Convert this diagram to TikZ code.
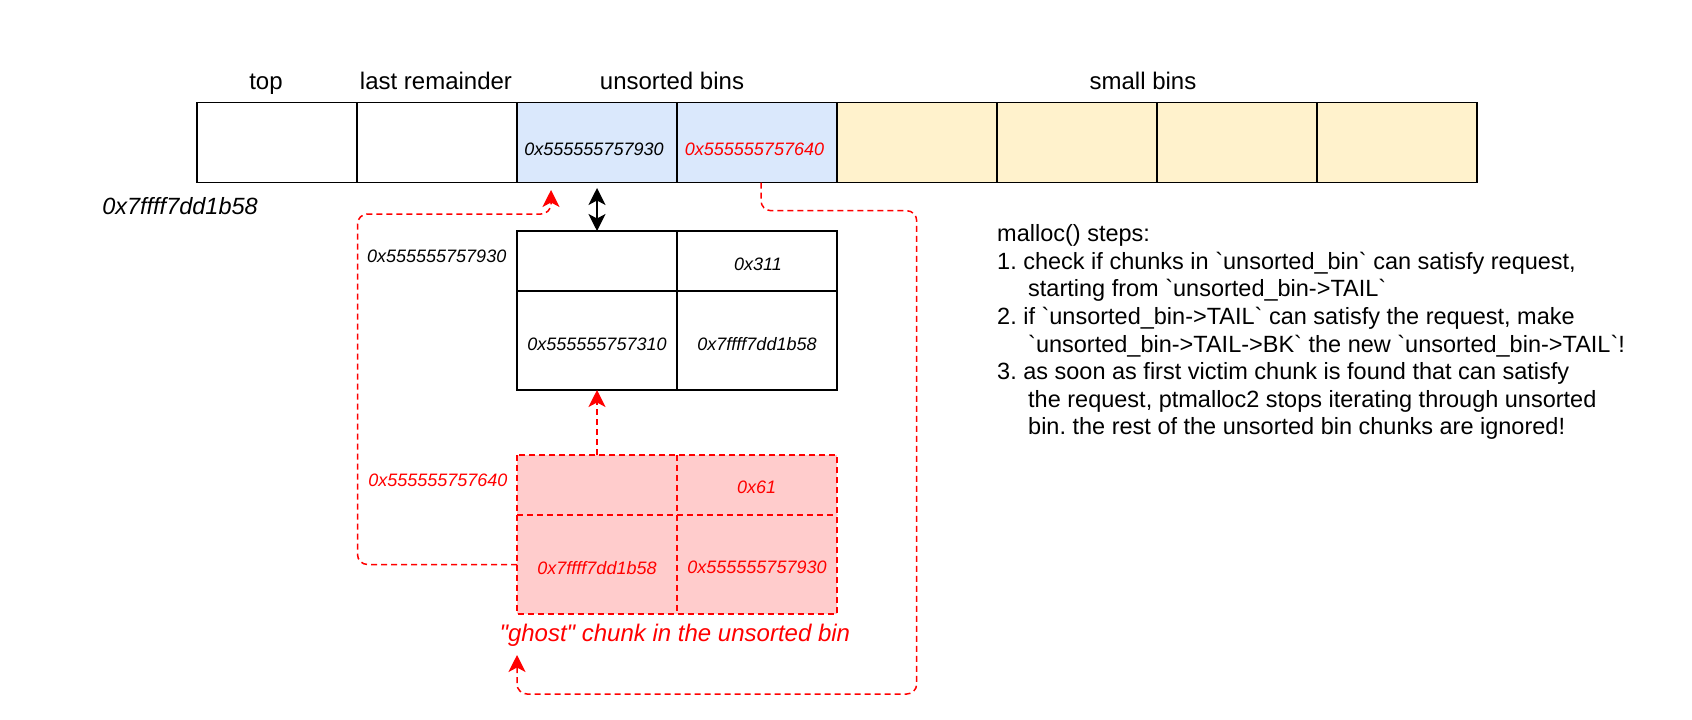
\documentclass[tikz,border=0pt]{standalone}
\usepackage{fontspec}
\setmainfont{Liberation Sans}[Ligatures=TeXOff]
\usetikzlibrary{arrows.meta}
\definecolor{bred}{HTML}{FF0000}
\definecolor{bblue}{HTML}{DAE8FC}
\definecolor{byellow}{HTML}{FFF2CC}
\definecolor{gpink}{HTML}{FFCCCC}
\newcommand\bq{\symbol{96}}
\frenchspacing
\begin{document}
\begin{tikzpicture}[x=1pt,y=-1pt,
  cell/.style={draw=black, line width=1.5pt, minimum width=160pt, inner sep=0pt, outer sep=0pt},
  gcell/.style={fill=gpink, minimum width=160pt, inner sep=0pt, outer sep=0pt},
  gline/.style={draw=bred, line width=1.5pt, dash pattern=on 6pt off 4pt},
  addr/.style={font=\fontsize{18}{21.6}\selectfont\itshape, inner sep=0pt},
  lbl/.style={font=\fontsize{24}{28}\selectfont, inner sep=0pt, anchor=base},
  steps/.style={font=\fontsize{23.5}{27.6}\selectfont, inner sep=0pt, anchor=base west},
  redlink/.style={draw=bred, line width=1.5pt, dash pattern=on 6pt off 4pt, rounded corners=10pt},
  tip/.style={-{Stealth[length=17pt,width=17pt,inset=4.5pt]}},
]
\useasboundingbox (0,0) rectangle (1692,720);

% top row of bins
\node[cell, minimum height=80pt] (c1) at (277,142.7) {};
\node[cell, minimum height=80pt] (c2) at (437,142.7) {};
\node[cell, minimum height=80pt, fill=bblue] (c3) at (597,142.7) {};
\node[cell, minimum height=80pt, fill=bblue] (c4) at (757,142.7) {};
\node[cell, minimum height=80pt, fill=byellow] (c5) at (917,142.7) {};
\node[cell, minimum height=80pt, fill=byellow] (c6) at (1077,142.7) {};
\node[cell, minimum height=80pt, fill=byellow] (c7) at (1237,142.7) {};
\node[cell, minimum height=80pt, fill=byellow] (c8) at (1397,142.7) {};

\node[lbl] (ltop) at (266,89) {top};
\node[lbl] (llast) at (436,89) {last remainder};
\node[lbl] (lunsorted) at (672,89) {unsorted bins};
\node[lbl] (lsmall) at (1143,89) {small bins};

\node[addr] (t3) at (594,149) {0x555555757930};
\node[addr, text=bred] (t4) at (754.5,149) {0x555555757640};
\node[inner sep=0pt, font=\fontsize{23.5}{28}\selectfont\itshape] (main) at (180,205.8) {0x7ffff7dd1b58};

% chunk at 0x555555757930
\node[cell, minimum height=60pt] (n1a) at (597,261) {};
\node[cell, minimum height=60pt] (n1b) at (757,261) {};
\node[cell, minimum height=99pt] (n1c) at (597,340.5) {};
\node[cell, minimum height=99pt] (n1d) at (757,340.5) {};
\node[addr] (n1size) at (758,264) {0x311};
\node[addr] (n1fd) at (597,344) {0x555555757310};
\node[addr] (n1bk) at (757,344) {0x7ffff7dd1b58};
\node[addr, anchor=east] (n1addr) at (506.5,256.7) {0x555555757930};

% ghost chunk
\node[gcell, minimum height=60pt] (g1a) at (597,485) {};
\node[gcell, minimum height=60pt] (g1b) at (757,485) {};
\node[gcell, minimum height=99pt] (g1c) at (597,564.5) {};
\node[gcell, minimum height=99pt] (g1d) at (757,564.5) {};
\draw[gline] (g1a.north west) rectangle (g1d.south east);
\draw[gline] (g1a.north east) -- (g1c.south east);
\draw[gline] (g1a.south west) -- (g1b.south east);
\node[addr, text=bred] (gsize) at (756.6,487.7) {0x61};
\node[addr, text=bred] (gfd) at (597,567.7) {0x7ffff7dd1b58};
\node[addr, text=bred] (gbk) at (757,567.7) {0x555555757930};
\node[addr, text=bred, anchor=east] (gaddr) at (507.6,480) {0x555555757640};
\node[inner sep=0pt, anchor=base, text=bred, font=\fontsize{24}{28}\selectfont\itshape] (gcap) at (674.8,641.7) {"ghost" chunk in the unsorted bin};

% connectors
\draw[line width=1.5pt, {Stealth[length=17pt,width=17pt,inset=4.5pt]}-{Stealth[length=17pt,width=17pt,inset=4.5pt]}, shorten <=5.3pt] (c3.south) -- (n1a.north);
\draw[redlink, tip] (g1a.north) -- (n1c.south);

\coordinate (aEnd) at (551,190);
\draw[redlink, tip] (g1c.west) -- (357.5,564.5) -- (357.5,214) -- (551,214) -- (aEnd);

\coordinate (bStart) at (761,182.7);
\coordinate (bEnd) at (517,655);
\draw[redlink, tip] (bStart) -- (761,210.7) -- (916.7,210.7) -- (916.7,694) -- (517,694) -- (bEnd);

% malloc steps
\node[steps] (s1) at (997,241.7) {malloc() steps:};
\node[steps] (s2) at (997,269.3) {1. check if chunks in \bq unsorted\_bin\bq\ can satisfy request,};
\node[steps] (s3) at (1028,296.9) {starting from \bq unsorted\_bin->TAIL\bq};
\node[steps] (s4) at (997,324.5) {2. if \bq unsorted\_bin->TAIL\bq\ can satisfy the request, make};
\node[steps] (s5) at (1028,352.1) {\bq unsorted\_bin->TAIL->BK\bq\ the new \bq unsorted\_bin->TAIL\bq!};
\node[steps] (s6) at (997,379.7) {3. as soon as first victim chunk is found that can satisfy};
\node[steps] (s7) at (1028,407.3) {the request, ptmalloc2 stops iterating through unsorted};
\node[steps] (s8) at (1028,434.9) {bin. the rest of the unsorted bin chunks are ignored!};
\end{tikzpicture}
\end{document}
